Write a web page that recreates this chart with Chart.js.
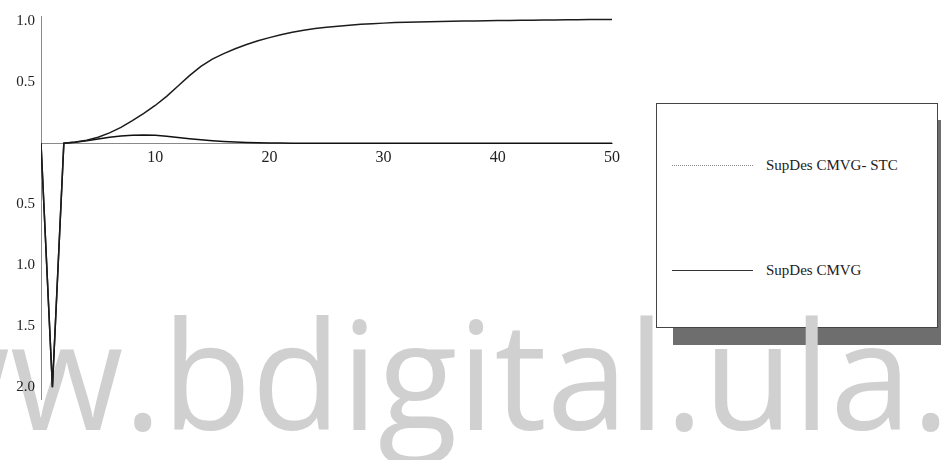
<!DOCTYPE html>
<html><head><meta charset="utf-8">
<script src="https://cdn.jsdelivr.net/npm/chart.js@4.4.1/dist/chart.umd.min.js"></script>
<style>
html,body{margin:0;padding:0;background:#fff;}
#wrap{position:relative;width:941px;height:460px;overflow:hidden;background:#fff;}
#c{position:absolute;left:0;top:0;z-index:3}
#legend{position:absolute;left:656px;top:103px;width:280px;height:223px;border:1px solid #444;background:#fff;box-shadow:17px 17px 0 #6e6e6e;z-index:1;font-family:"Liberation Serif",serif;font-size:15px;color:#222}
.item{position:absolute;left:15px;height:20px;display:flex;align-items:center;white-space:nowrap}
.item .ln{width:81px;height:0;margin-right:13px}
#wm{position:absolute;left:10px;top:297px;font-family:"Open Sans",sans-serif;font-size:150px;line-height:150px;color:#d0d0d0;white-space:nowrap;transform:scaleX(0.976);transform-origin:0 0;z-index:2}
</style></head>
<body><div id="wrap"><canvas id="c" width="941" height="460"></canvas><div id="legend"></div><div id="wm"><span style="position:absolute;right:100%">ww</span>w.bdigital.ula.ve</div></div>
<script>
const xValues = [0,1,2,3,4,5,6,7,8,9,10,11,12,13,14,15,16,17,18,19,20,21,22,23,24,25,26,27,28,29,30,31,32,33,34,35,36,37,38,39,40,41,42,43,44,45,46,47,48,49,50];
const stcValues = [0,-2.0,0,0.01,0.025,0.05,0.085,0.13,0.185,0.245,0.31,0.385,0.47,0.555,0.63,0.69,0.735,0.775,0.81,0.84,0.866,0.89,0.91,0.927,0.94,0.952,0.96,0.968,0.975,0.98,0.985,0.99,0.993,0.995,0.997,0.999,1.0,1.002,1.003,1.005,1.006,1.007,1.008,1.009,1.01,1.011,1.012,1.013,1.014,1.015,1.015];
const cmvgValues = [0,-2.0,0,0.008,0.02,0.035,0.05,0.06,0.066,0.068,0.065,0.058,0.048,0.038,0.029,0.021,0.015,0.01,0.007,0.005,0.003,0.002,0.001,0.001,0,0,0,0,0,0,0,0,0,0,0,0,0,0,0,0,0,0,0,0,0,0,0,0,0,0,0];
const xTicks = [10,20,30,40,50];
const yTicks = [-2.0,-1.5,-1.0,-0.5,0.5,1.0];
const seriesLabels = ['SupDes CMVG- STC','SupDes CMVG'];

const lineColors = ['#1c1c1c','#111111'];
const legendColors = ['#8c8c8c','#333333'];
const tickFont = {family:'Liberation Serif', size:16};

const chart = new Chart(document.getElementById('c').getContext('2d'), {
  type:'line',
  data:{datasets:[
    {label:seriesLabels[0], data:xValues.map((x,i)=>({x:x,y:stcValues[i]})), borderColor:lineColors[0], borderWidth:1.5, pointRadius:0, tension:0, fill:false},
    {label:seriesLabels[1], data:xValues.map((x,i)=>({x:x,y:cmvgValues[i]})), borderColor:lineColors[1], borderWidth:1.5, pointRadius:0, tension:0, fill:false}
  ]},
  options:{
    responsive:false, animation:false, devicePixelRatio:1,
    layout:{padding:{left:0,right:329,top:16,bottom:60.5}},
    plugins:{legend:{display:false}, tooltip:{enabled:false}},
    scales:{
      x:{type:'linear', min:0, max:50, position:{y:0},
        grid:{display:false, drawTicks:false},
        border:{display:true, color:'#8a8a8a', dash:[1,2], width:1},
        ticks:{padding:5, font:tickFont, color:'#222', callback:v=>String(v)},
        afterBuildTicks:s=>{s.ticks = xTicks.map(v=>({value:v}));}
      },
      y:{type:'linear', min:-2.1, max:1.0434, position:'left',
        grid:{display:false, drawTicks:false},
        border:{display:true, color:'#8a8a8a', dash:[1,2], width:1},
        ticks:{padding:6, font:{family:'Liberation Serif', size:15}, color:'#222', callback:v=>Math.abs(v).toFixed(1)},
        afterBuildTicks:s=>{s.ticks = yTicks.map(v=>({value:v}));},
        afterFit:s=>{s.width = 41;}
      }
    }
  }
});

const legend = document.getElementById('legend');
const tops = [51,156];
chart.data.datasets.forEach((ds,i)=>{
  const it = document.createElement('div');
  it.className='item'; it.style.top = tops[i]+'px';
  const ln = document.createElement('div'); ln.className='ln';
  ln.style.borderTop = (i===0?'1px dotted ':'1.3px solid ')+legendColors[i];
  const tx = document.createElement('span'); tx.textContent = ds.label;
  it.appendChild(ln); it.appendChild(tx); legend.appendChild(it);
});
</script>
</body></html>
